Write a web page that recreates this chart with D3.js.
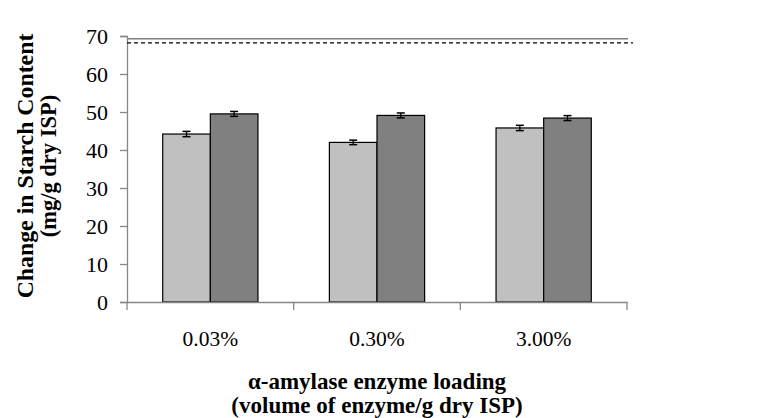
<!DOCTYPE html>
<html>
<head>
<meta charset="utf-8">
<script src="https://cdn.jsdelivr.net/npm/d3@7"></script>
<style>
  body { margin: 0; background: #fff; }
  text { font-family: "Liberation Serif", "Times New Roman", serif; fill: #000; }
</style>
</head>
<body>
<div id="chart"></div>
<script>
// data
const categories = ['0.03%', '0.30%', '3.00%'];
const seriesA = [44.2, 42.0, 45.8];   // light bars
const seriesB = [49.5, 49.1, 48.4];   // dark bars
const errA = [0.7, 0.6, 0.7];
const errB = [0.65, 0.65, 0.65];
const refSolid = 69.3;
const refDashed = 68.2;
const yTicks = [0, 10, 20, 30, 40, 50, 60, 70];

const width = 762, height = 418;
const mLeft = 127, mRight = 627, mTop = 36, mBottom = 302;

const svg = d3.select('#chart').append('svg')
    .attr('width', width)
    .attr('height', height);

const y = d3.scaleLinear().domain([0, 70]).range([mBottom, mTop]);
const x = d3.scaleBand().domain(categories).range([mLeft, mRight]).paddingInner(0).paddingOuter(0);
// gap width 150% -> two bars take 2/3.5 of each band
const inner = d3.scaleBand().domain(['a', 'b']).range([0, x.bandwidth() * 2 / 3.5]);
const offset = x.bandwidth() * 0.75 / 3.5;

// y axis
const yAxis = svg.append('g')
    .attr('transform', `translate(${mLeft},0)`)
    .call(d3.axisLeft(y).tickValues(yTicks).tickSize(7).tickPadding(12));
yAxis.select('.domain').attr('stroke', '#868686').attr('stroke-width', 1.3);
yAxis.selectAll('.tick line').attr('stroke', '#868686').attr('stroke-width', 1.3);
yAxis.selectAll('.tick text').style('font-size', '22px').style('font-family', '"Liberation Serif", serif');

// reference lines
svg.append('line')
    .attr('x1', mLeft).attr('x2', mRight + 1)
    .attr('y1', y(refSolid)).attr('y2', y(refSolid))
    .attr('stroke', '#7f7f7f').attr('stroke-width', 1.5);
svg.append('line')
    .attr('x1', mLeft).attr('x2', mRight + 6)
    .attr('y1', y(refDashed)).attr('y2', y(refDashed))
    .attr('stroke', '#000').attr('stroke-width', 1.1)
    .attr('stroke-dasharray', '4,3');

// bars
const groups = svg.append('g').selectAll('g')
    .data(categories.map((c, i) => ({ c, vals: [
        { k: 'a', v: seriesA[i], e: errA[i], fill: '#c0c0c0' },
        { k: 'b', v: seriesB[i], e: errB[i], fill: '#808080' }
    ] })))
    .join('g')
    .attr('transform', d => `translate(${x(d.c) + offset},0)`);

groups.selectAll('rect')
    .data(d => d.vals)
    .join('rect')
    .attr('x', d => inner(d.k))
    .attr('y', d => y(d.v))
    .attr('width', inner.bandwidth())
    .attr('height', d => y(0) - y(d.v))
    .attr('fill', d => d.fill)
    .attr('stroke', '#000')
    .attr('stroke-width', 1.2);

// error bars
const eb = groups.selectAll('g.err')
    .data(d => d.vals)
    .join('g')
    .attr('class', 'err')
    .attr('transform', d => `translate(${inner(d.k) + inner.bandwidth() / 2},0)`);
eb.append('line')
    .attr('y1', d => y(d.v + d.e)).attr('y2', d => y(d.v - d.e))
    .attr('stroke', '#000').attr('stroke-width', 1.3);
eb.append('line')
    .attr('x1', -4).attr('x2', 4)
    .attr('y1', d => y(d.v + d.e)).attr('y2', d => y(d.v + d.e))
    .attr('stroke', '#000').attr('stroke-width', 1.5);
eb.append('line')
    .attr('x1', -4).attr('x2', 4)
    .attr('y1', d => y(d.v - d.e)).attr('y2', d => y(d.v - d.e))
    .attr('stroke', '#000').attr('stroke-width', 1.5);

// x axis
const xAxis = svg.append('g')
    .attr('transform', `translate(0,${mBottom})`)
    .call(d3.axisBottom(x).tickSize(0));
xAxis.select('.domain').attr('stroke', '#868686').attr('stroke-width', 1.3);
xAxis.selectAll('.tick text')
    .attr('y', 44).attr('dy', null)
    .style('font-size', '21.5px').style('font-family', '"Liberation Serif", serif');
xAxis.selectAll('line.sep')
    .data([mLeft, ...categories.map(c => x(c) + x.bandwidth())])
    .join('line')
    .attr('class', 'sep')
    .attr('x1', d => d).attr('x2', d => d)
    .attr('y1', 0).attr('y2', 8)
    .attr('stroke', '#868686').attr('stroke-width', 1.3);

// axis titles
svg.append('text')
    .attr('x', (mLeft + mRight) / 2).attr('y', 389)
    .attr('text-anchor', 'middle')
    .style('font-size', '23px').style('font-weight', 'bold')
    .text('α-amylase enzyme loading');
svg.append('text')
    .attr('x', (mLeft + mRight) / 2).attr('y', 413)
    .attr('text-anchor', 'middle')
    .style('font-size', '23px').style('font-weight', 'bold')
    .text('(volume of enzyme/g dry ISP)');

const yt = svg.append('g').attr('transform', 'translate(0,166) rotate(-90)');
yt.append('text')
    .attr('x', 0).attr('y', 33)
    .attr('text-anchor', 'middle')
    .style('font-size', '23.8px').style('font-weight', 'bold')
    .text('Change in Starch Content');
yt.append('text')
    .attr('x', 0).attr('y', 56)
    .attr('text-anchor', 'middle')
    .style('font-size', '22.5px').style('font-weight', 'bold')
    .text('(mg/g dry ISP)');
</script>
</body>
</html>
